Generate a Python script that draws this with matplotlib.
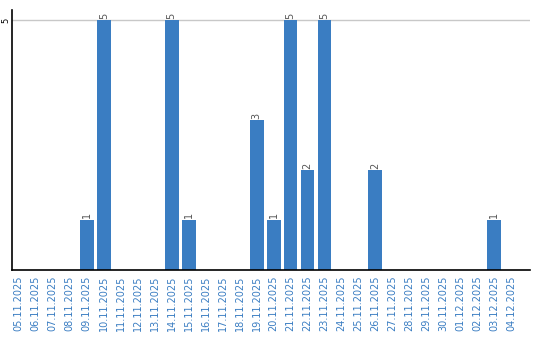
import matplotlib.pyplot as plt
import numpy as np

dates = ["05.11.2025", "06.11.2025", "07.11.2025", "08.11.2025", "09.11.2025",
         "10.11.2025", "11.11.2025", "12.11.2025", "13.11.2025", "14.11.2025",
         "15.11.2025", "16.11.2025", "17.11.2025", "18.11.2025", "19.11.2025",
         "20.11.2025", "21.11.2025", "22.11.2025", "23.11.2025", "24.11.2025",
         "25.11.2025", "26.11.2025", "27.11.2025", "28.11.2025", "29.11.2025",
         "30.11.2025", "01.12.2025", "02.12.2025", "03.12.2025", "04.12.2025"]
counts = [0, 0, 0, 0, 1, 5, 0, 0, 0, 5,
          1, 0, 0, 0, 3, 1, 5, 2, 5, 0,
          0, 2, 0, 0, 0, 0, 0, 0, 1, 0]

bar_color = '#3a7dc2'
text_color = '#3a7dc2'

fig = plt.figure(figsize=(5.4, 3.4), dpi=100)
ax = fig.add_axes([12 / 540, 70 / 340, 518 / 540, 260 / 340])

x = np.arange(len(dates))
ax.bar(x, counts, width=0.82, color=bar_color, zorder=2)
for xi, c in zip(x, counts):
    if c > 0:
        ax.text(xi, c + 0.03, str(c), rotation=90, ha='center', va='bottom',
                fontsize=7, color='#555555')

ax.set_xlim(-0.4, 30.1)
ax.set_ylim(0, 5.2)
ax.set_yticks([5])
ax.set_yticklabels(['5'], rotation=90, va='center', fontsize=6)
ax.axhline(5, color='#c8c8c8', linewidth=1, zorder=1)
ax.set_xticks(x)
ax.set_xticklabels(dates, rotation=90, fontsize=7, color=text_color)
ax.tick_params(axis='x', length=0, pad=4)
ax.tick_params(axis='y', length=0, pad=1.5)

ax.spines['top'].set_visible(False)
ax.spines['right'].set_visible(False)
ax.spines['left'].set_linewidth(1.2)
ax.spines['bottom'].set_linewidth(1.2)

fig.savefig('out.png', dpi=100)
